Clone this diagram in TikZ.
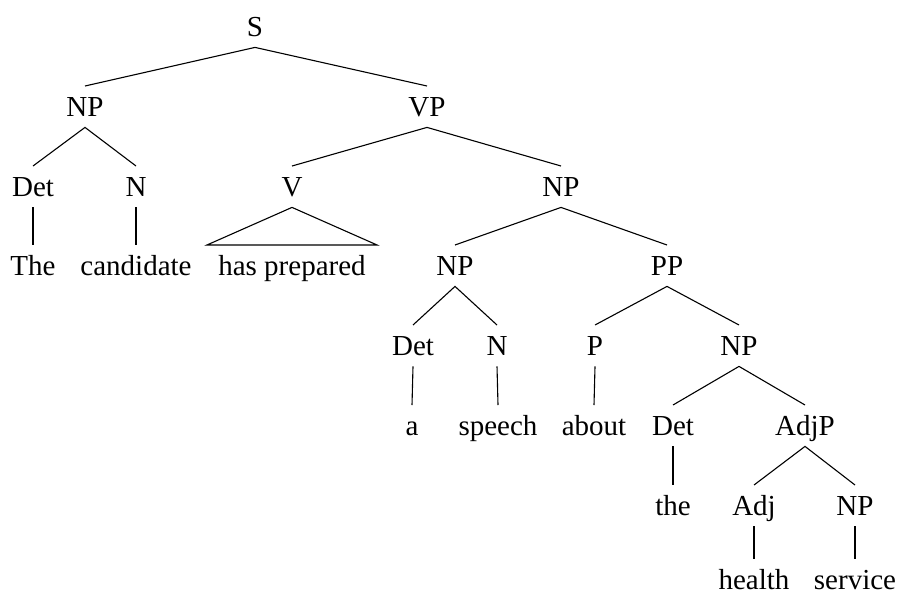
\documentclass[tikz,border=0pt]{standalone}
\usepackage{fontspec}
\setmainfont{Liberation Serif}
\begin{document}
\begin{tikzpicture}[x=0.5pt, y=-0.5pt,
  cat/.style={anchor=base, inner xsep=5.5pt, inner ysep=5.5pt,
    text height=9.3pt, text depth=0pt, font=\fontsize{14.5pt}{16pt}\selectfont},
  % bottom-row leaves: same north anchor, tighter box below the baseline
  lastleaf/.style={cat, inner ysep=1pt, text height=13.8pt},
  branch/.style={line width=0.55pt}]
\useasboundingbox (0,0) rectangle (898,595);
% tree nodes, placed by baseline
\node[cat] (s)    at (255,36)  {S};
\node[cat] (np1)  at (85,116)  {NP};
\node[cat] (vp)   at (427,116) {VP};
\node[cat] (det1) at (33,196)  {Det};
\node[cat] (n1)   at (136,196) {N};
\node[cat] (v)    at (292,196) {V};
\node[cat] (np2)  at (561,196) {NP};
\node[cat] (the1) at (33,275)  {The};
\node[cat] (cand) at (136,275) {candidate};
\node[cat] (hp)   at (292,275) {has prepared};
\node[cat] (np3)  at (455,275) {NP};
\node[cat] (pp)   at (667,275) {PP};
\node[cat] (det2) at (413,355) {Det};
\node[cat] (n2)   at (497,355) {N};
\node[cat] (p)    at (595,355) {P};
\node[cat] (np4)  at (739,355) {NP};
\node[cat] (a)    at (412,435) {a};
\node[cat] (sp)   at (498,435) {speech};
\node[cat] (ab)   at (594,435) {about};
\node[cat] (det3) at (673,435) {Det};
\node[cat] (adjp) at (805,435) {AdjP};
\node[cat] (the2) at (673,515) {the};
\node[cat] (adj)  at (754,515) {Adj};
\node[cat] (np5)  at (855,515) {NP};
\node[lastleaf] (hl) at (754,589) {health};
\node[lastleaf] (sv) at (855,589) {service};
% branches
\draw[branch] (np1.north) -- (s.south) -- (vp.north);
\draw[branch] (det1.north) -- (np1.south) -- (n1.north);
\draw[branch] (v.north) -- (vp.south) -- (np2.north);
\draw[branch] (det1.south) -- (the1.north);
\draw[branch] (n1.south) -- (cand.north);
\draw[branch] (hp.north west) -- (v.south) -- (hp.north east) -- cycle;
\draw[branch] (np3.north) -- (np2.south) -- (pp.north);
\draw[branch] (det2.north) -- (np3.south) -- (n2.north);
\draw[branch] (p.north) -- (pp.south) -- (np4.north);
\draw[branch] (det2.south) -- (a.north);
\draw[branch] (n2.south) -- (sp.north);
\draw[branch] (p.south) -- (ab.north);
\draw[branch] (det3.north) -- (np4.south) -- (adjp.north);
\draw[branch] (det3.south) -- (the2.north);
\draw[branch] (adj.north) -- (adjp.south) -- (np5.north);
\draw[branch] (adj.south) -- (hl.north);
\draw[branch] (np5.south) -- (sv.north);
\end{tikzpicture}
\end{document}
